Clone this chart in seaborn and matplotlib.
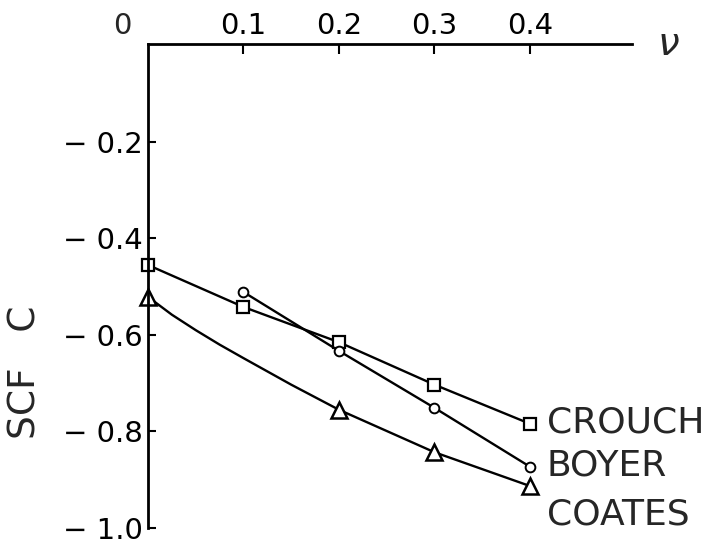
import matplotlib
matplotlib.use("Agg")
import matplotlib.pyplot as plt
import seaborn as sns

# data
crouch_x = [0.0, 0.1, 0.2, 0.3, 0.4]
crouch_y = [-0.455, -0.542, -0.615, -0.703, -0.784]
boyer_x = [0.1, 0.2, 0.3, 0.4]
boyer_y = [-0.511, -0.633, -0.751, -0.873]
coates_x = [0.0, 0.025, 0.05, 0.075, 0.1, 0.15, 0.2, 0.3, 0.4]
coates_y = [-0.521, -0.558, -0.590, -0.620, -0.648, -0.703, -0.755, -0.843, -0.913]
coates_marked = [0, 6, 7, 8]

x_ticks = [0.1, 0.2, 0.3, 0.4]
x_labels = ["0.1", "0.2", "0.3", "0.4"]
y_ticks = [-0.2, -0.4, -0.6, -0.8, -1.0]
y_labels = ["\u2212 0.2", "\u2212 0.4", "\u2212 0.6", "\u2212 0.8", "\u2212 1.0"]
series_names = ["CROUCH", "BOYER", "COATES"]
label_y = [-0.782, -0.871, -0.973]

sns.set_theme(style="white")
plt.rcParams['font.family'] = ['DejaVu Sans']

fig = plt.figure(figsize=(7.14, 5.48), dpi=100)
ax = fig.add_axes([0.2073, 0.0365, 0.678, 0.8832])

lw = 1.7
sns.lineplot(x=crouch_x, y=crouch_y, ax=ax, color="black", lw=lw, marker="s",
             markersize=8, markerfacecolor="white", markeredgecolor="black",
             markeredgewidth=1.6)
sns.lineplot(x=boyer_x, y=boyer_y, ax=ax, color="black", lw=lw, marker="o",
             markersize=7, markerfacecolor="white", markeredgecolor="black",
             markeredgewidth=1.4)
sns.lineplot(x=coates_x, y=coates_y, ax=ax, color="black", lw=lw, marker="^",
             markevery=coates_marked,
             markersize=11, markerfacecolor="white", markeredgecolor="black",
             markeredgewidth=1.8)
for c in ax.lines:
    c.set_clip_on(False)

ax.set_xlim(0, 0.507)
ax.set_ylim(-1.0, 0.003)

for s in ["bottom", "right"]:
    ax.spines[s].set_visible(False)
for s in ["top", "left"]:
    ax.spines[s].set_color("black")
    ax.spines[s].set_linewidth(2)

ax.xaxis.tick_top()
ax.set_xticks(x_ticks)
ax.set_xticklabels(x_labels)
ax.set_yticks(y_ticks)
ax.set_yticklabels(y_labels)
ax.tick_params(axis="x", direction="in", length=7, width=1.5, pad=3,
               labelsize=21, colors="black", top=True, bottom=False)
ax.tick_params(axis="y", direction="in", length=6, width=1.5, pad=4,
               labelsize=21, colors="black", left=True)

# "0" label at the corner
ax.annotate("0", xy=(-0.054, 1.0), xycoords="axes fraction",
            xytext=(0, 3), textcoords="offset points",
            fontsize=21, ha="center", va="bottom", annotation_clip=False)
# nu label
ax.text(0.545, 0.003, "\u03bd", fontsize=28, ha="center", va="center",
        style="italic", clip_on=False)

for name, yy in zip(series_names, label_y):
    ax.annotate(name, xy=(0.4, yy), xytext=(12, 0), textcoords="offset points",
                fontsize=26, ha="left", va="center", annotation_clip=False)

ax.set_ylabel("SCF   C", fontsize=27)
ax.yaxis.set_label_coords(-0.215, 0.322)
ax.set_xlabel("")

fig.savefig("out.png", dpi=100)
